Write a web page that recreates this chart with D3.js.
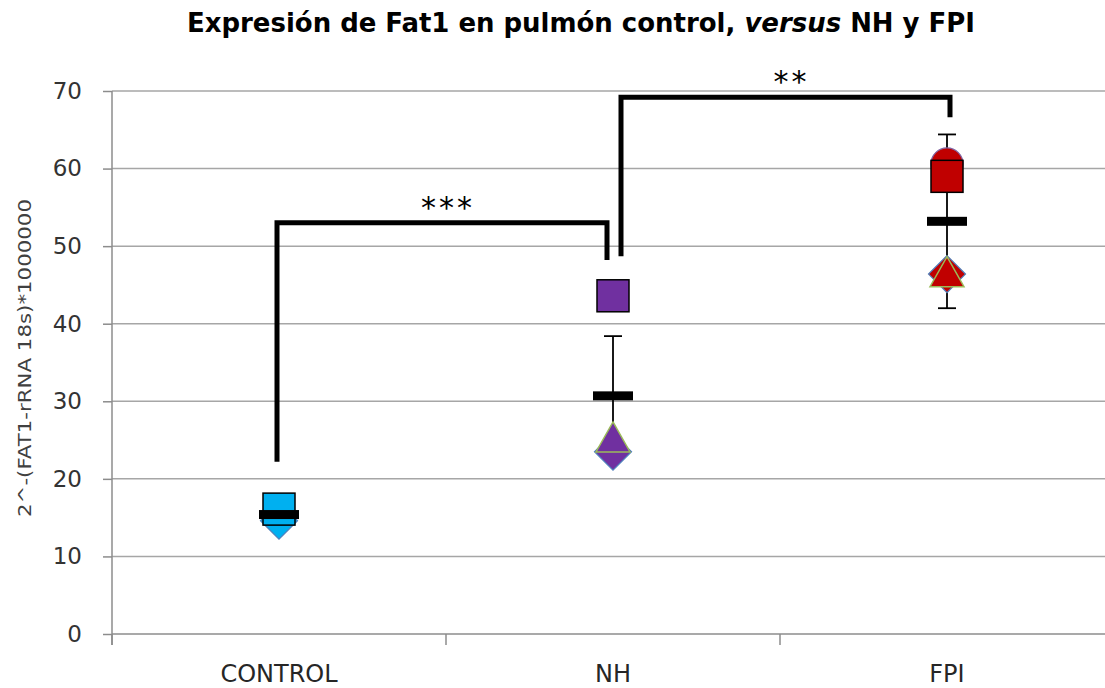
<!DOCTYPE html>
<html>
<head>
<meta charset="utf-8">
<script src="https://cdn.jsdelivr.net/npm/d3@7"></script>
<style>
    body { margin: 0; background: #fff; }
    svg { display: block; }
</style>
</head>
<body>
<svg id="chart" width="1105" height="688"></svg>
<script>
// ----- data
var categories = ["CONTROL", "NH", "FPI"];
var groupColors = ["#00B0F0", "#7030A0", "#C00000"];

// individual points, one array per marker series (null = not visible)
var diamondValues  = [14.6, 23.5, 46.4];
var squareValues   = [16.1, 43.6, 59.0];
var triangleValues = [null, 25.4, 46.7];
var circleValues   = [null, null, 60.6];

// mean and SD per group
var meanValues = [15.4, 30.7, 53.2];
var sdValues   = [1.0, 7.7, 11.2];

var yTicks = [0, 10, 20, 30, 40, 50, 60, 70];

// significance brackets
var brackets = [
    { from: "CONTROL", to: "NH", top: 53.0, leftEnd: 22.2, rightEnd: 48.2, dxL: -2, dxR: -6, label: "***" },
    { from: "NH", to: "FPI", top: 69.2, leftEnd: 48.7, rightEnd: 66.6, dxL: 8, dxR: 3, label: "**" }
];

drawChart();

function drawChart() {
    var svg = d3.select("#chart");
    var left = 112, right = 1114, top = 91, bottom = 634;

    var x = d3.scaleBand().domain(categories).range([left, right]).padding(0);
    var y = d3.scaleLinear().domain([0, 70]).range([bottom, top]);
    var cx = function (c) { return x(c) + x.bandwidth() / 2; };

    // title
    var title = svg.append("text")
        .attr("x", 187)
        .attr("y", 32)
        .attr("textLength", 788)
        .attr("lengthAdjust", "spacingAndGlyphs")
        .style("font-family", "'Liberation Sans Narrow', 'DejaVu Sans Condensed', sans-serif")
        .style("font-weight", "bold")
        .style("font-size", "27px")
        .style("fill", "#000");
    title.append("tspan").text("Expresión de Fat1 en pulmón control, ");
    title.append("tspan").style("font-style", "italic").text("versus");
    title.append("tspan").text(" NH y FPI");

    // gridlines
    svg.append("g")
        .selectAll("line")
        .data(yTicks.filter(function (d) { return d > 0; }))
        .enter().append("line")
        .attr("x1", left).attr("x2", right)
        .attr("y1", function (d) { return y(d); })
        .attr("y2", function (d) { return y(d); })
        .style("stroke", "#a6a6a6")
        .style("stroke-width", 1.5);

    // y axis
    var yAxis = svg.append("g")
        .attr("transform", "translate(" + left + ",0)")
        .call(d3.axisLeft(y).tickValues(yTicks).tickSize(9).tickPadding(21));
    yAxis.select(".domain").attr("d", "M0," + top + "V" + (bottom + 11)).style("stroke", "#8c8c8c").style("stroke-width", 1.5);
    yAxis.selectAll(".tick line").style("stroke", "#8c8c8c").style("stroke-width", 1.5);
    yAxis.selectAll(".tick text")
        .style("font-family", "'DejaVu Sans', sans-serif")
        .style("font-size", "23px")
        .style("fill", "#333");

    // x axis
    var xAxis = svg.append("g")
        .attr("transform", "translate(0," + bottom + ")");
    xAxis.append("line")
        .attr("x1", left).attr("x2", right)
        .style("stroke", "#8c8c8c").style("stroke-width", 1.5);
    xAxis.selectAll(".xtick")
        .data(categories.concat([null]))
        .enter().append("line")
        .attr("class", "xtick")
        .attr("x1", function (d, i) { return left + i * x.step(); })
        .attr("x2", function (d, i) { return left + i * x.step(); })
        .attr("y1", 0).attr("y2", 11)
        .style("stroke", "#8c8c8c").style("stroke-width", 1.5);
    xAxis.selectAll(".xlabel")
        .data(categories)
        .enter().append("text")
        .attr("class", "xlabel")
        .attr("x", function (d) { return cx(d); })
        .attr("y", 48)
        .attr("text-anchor", "middle")
        .style("font-family", "'DejaVu Sans', sans-serif")
        .style("font-size", "24px")
        .style("fill", "#262626")
        .text(function (d) { return d; });

    // y axis title
    svg.append("text")
        .attr("transform", "translate(31," + 358 + ") rotate(-90)")
        .attr("text-anchor", "middle")
        .attr("textLength", 318)
        .attr("lengthAdjust", "spacingAndGlyphs")
        .style("font-family", "'DejaVu Sans', sans-serif")
        .style("font-size", "18px")
        .style("fill", "#404040")
        .text("2^-(FAT1-rRNA 18s)*1000000");

    // error bars (drawn beneath markers)
    var err = svg.append("g");
    categories.forEach(function (c, i) {
        var xc = cx(c);
        var lo = y(meanValues[i] - sdValues[i]), hi = y(meanValues[i] + sdValues[i]);
        err.append("line").attr("x1", xc).attr("x2", xc).attr("y1", lo).attr("y2", hi)
            .style("stroke", "#000").style("stroke-width", 1.8);
        [lo, hi].forEach(function (yy) {
            err.append("line").attr("x1", xc - 9).attr("x2", xc + 9).attr("y1", yy).attr("y2", yy)
                .style("stroke", "#000").style("stroke-width", 1.8);
        });
    });

    // markers
    var markers = svg.append("g");
    var diamond = function (s) { return "M0," + (-s) + "L" + s + ",0L0," + s + "L" + (-s) + ",0Z"; };
    var triangle = function (w, h) { return "M0," + (-h / 2) + "L" + (w / 2) + "," + (h / 2) + "L" + (-w / 2) + "," + (h / 2) + "Z"; };

    categories.forEach(function (c, i) {
        var xc = cx(c);
        if (diamondValues[i] != null) {
            markers.append("path")
                .attr("transform", "translate(" + xc + "," + y(diamondValues[i]) + ")")
                .attr("d", diamond(18.5))
                .style("fill", groupColors[i]).style("stroke", "#4F81BD").style("stroke-width", 1.2);
        }
        if (triangleValues[i] != null) {
            markers.append("path")
                .attr("transform", "translate(" + xc + "," + y(triangleValues[i]) + ")")
                .attr("d", triangle(34, 30))
                .style("fill", groupColors[i]).style("stroke", "#9BBB59").style("stroke-width", 1.5);
        }
        if (circleValues[i] != null) {
            markers.append("circle")
                .attr("cx", xc).attr("cy", y(circleValues[i])).attr("r", 16)
                .style("fill", groupColors[i]).style("stroke", "#8064A2").style("stroke-width", 1.2);
        }
        if (squareValues[i] != null) {
            markers.append("rect")
                .attr("x", xc - 16).attr("y", y(squareValues[i]) - 16)
                .attr("width", 32).attr("height", 32)
                .style("fill", groupColors[i]).style("stroke", "#000").style("stroke-width", 1.5);
        }
    });

    // mean bars
    svg.append("g")
        .selectAll("rect")
        .data(meanValues)
        .enter().append("rect")
        .attr("x", function (d, i) { return cx(categories[i]) - 20; })
        .attr("y", function (d) { return y(d) - 4.5; })
        .attr("width", 40).attr("height", 9)
        .style("fill", "#000");

    // significance brackets
    var br = svg.append("g");
    brackets.forEach(function (b) {
        var x1 = cx(b.from) + b.dxL, x2 = cx(b.to) + b.dxR;
        br.append("path")
            .attr("d", "M" + x1 + "," + y(b.leftEnd) + "V" + y(b.top) + "H" + x2 + "V" + y(b.rightEnd))
            .style("fill", "none").style("stroke", "#000").style("stroke-width", 5);
        br.append("text")
            .attr("x", (x1 + x2) / 2 + 6)
            .attr("y", y(b.top) - 5)
            .attr("text-anchor", "middle")
            .style("font-family", "'DejaVu Sans', sans-serif")
            .style("font-size", "30px")
            .style("letter-spacing", "3px")
            .style("fill", "#000")
            .text(b.label);
    });
}
</script>
</body>
</html>
